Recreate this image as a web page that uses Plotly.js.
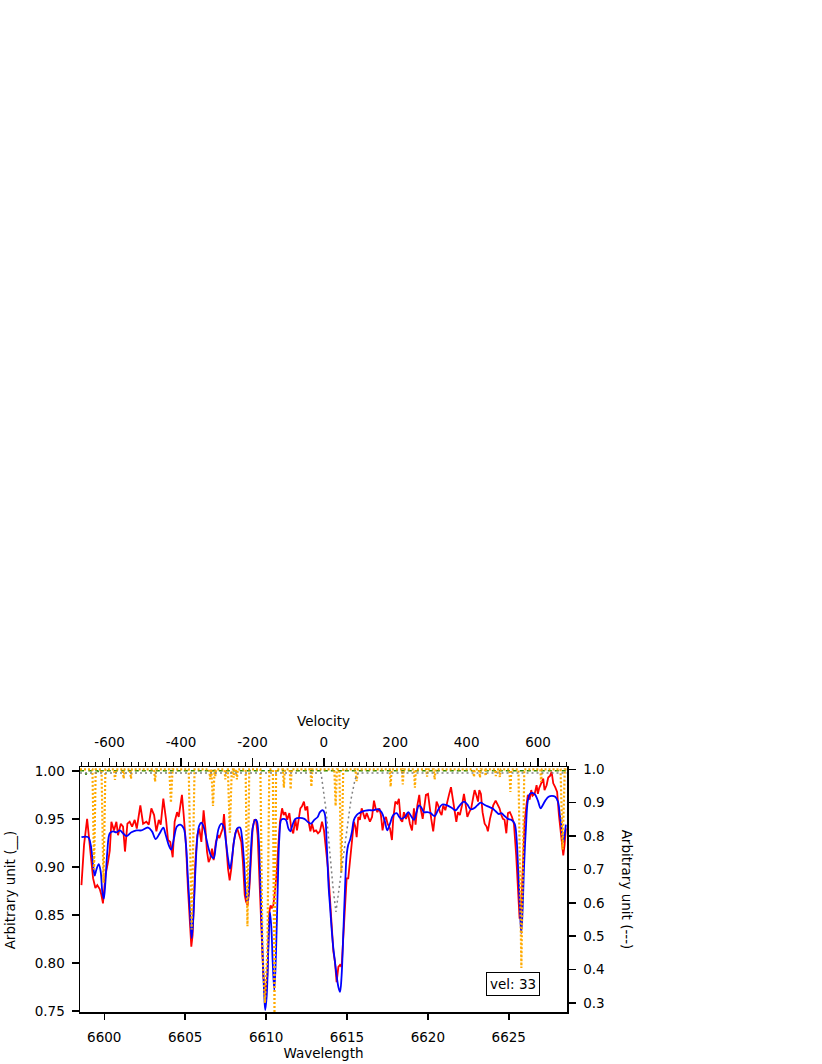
<!DOCTYPE html>
<html>
<head>
<meta charset="utf-8">
<script src="https://cdn.plot.ly/plotly-3.0.1.min.js"></script>
<style>
  body { margin: 0; background: white; }
  #spec { width: 822px; height: 1064px; }
</style>
</head>
<body>
<div id="spec"></div>
<script>
// observed spectrum (red), left axis
var wlObs = [6598.59, 6598.75, 6598.94, 6599.06, 6599.20, 6599.31, 6599.45, 6599.57, 6599.72, 6599.82,
  6599.92, 6600.07, 6600.23, 6600.34, 6600.44, 6600.60, 6600.75, 6600.85, 6601.02, 6601.16,
  6601.28, 6601.43, 6601.57, 6601.72, 6601.88, 6602.01, 6602.23, 6602.40, 6602.60, 6602.75,
  6602.91, 6603.08, 6603.22, 6603.37, 6603.49, 6603.65, 6603.82, 6603.94, 6604.08, 6604.23,
  6604.35, 6604.50, 6604.60, 6604.70, 6604.80, 6604.91, 6605.05, 6605.17, 6605.30, 6605.38,
  6605.46, 6605.55, 6605.63, 6605.75, 6605.87, 6606.00, 6606.14, 6606.25, 6606.35, 6606.45,
  6606.55, 6606.66, 6606.76, 6606.90, 6607.03, 6607.11, 6607.24, 6607.32, 6607.40, 6607.52,
  6607.65, 6607.75, 6607.85, 6607.98, 6608.10, 6608.22, 6608.35, 6608.47, 6608.57, 6608.68,
  6608.76, 6608.86, 6608.97, 6609.07, 6609.17, 6609.28, 6609.38, 6609.48, 6609.58, 6609.71,
  6609.83, 6609.95, 6610.08, 6610.20, 6610.28, 6610.37, 6610.45, 6610.57, 6610.66, 6610.76,
  6610.86, 6610.99, 6611.09, 6611.19, 6611.31, 6611.44, 6611.56, 6611.68, 6611.81, 6611.91,
  6612.01, 6612.12, 6612.22, 6612.34, 6612.43, 6612.55, 6612.63, 6612.74, 6612.84, 6612.96,
  6613.09, 6613.21, 6613.33, 6613.46, 6613.58, 6613.70, 6613.83, 6613.95, 6614.05, 6614.16,
  6614.26, 6614.36, 6614.47, 6614.57, 6614.67, 6614.77, 6614.88, 6614.98, 6615.08, 6615.19,
  6615.31, 6615.43, 6615.52, 6615.60, 6615.70, 6615.80, 6615.91, 6616.01, 6616.11, 6616.22,
  6616.32, 6616.42, 6616.55, 6616.67, 6616.77, 6616.88, 6617.00, 6617.10, 6617.20, 6617.31,
  6617.41, 6617.51, 6617.66, 6617.78, 6617.86, 6617.99, 6618.11, 6618.21, 6618.32, 6618.42,
  6618.52, 6618.65, 6618.77, 6618.89, 6619.02, 6619.14, 6619.24, 6619.35, 6619.47, 6619.55,
  6619.68, 6619.76, 6619.88, 6620.01, 6620.11, 6620.21, 6620.33, 6620.44, 6620.54, 6620.64,
  6620.75, 6620.85, 6620.95, 6621.08, 6621.20, 6621.32, 6621.43, 6621.53, 6621.63, 6621.76,
  6621.86, 6621.98, 6622.11, 6622.23, 6622.31, 6622.44, 6622.56, 6622.68, 6622.81, 6622.89,
  6622.99, 6623.10, 6623.18, 6623.28, 6623.38, 6623.51, 6623.63, 6623.71, 6623.84, 6623.92,
  6624.04, 6624.19, 6624.33, 6624.43, 6624.54, 6624.64, 6624.74, 6624.85, 6624.95, 6625.07,
  6625.20, 6625.32, 6625.46, 6625.57, 6625.67, 6625.77, 6625.88, 6625.98, 6626.10, 6626.18,
  6626.29, 6626.39, 6626.47, 6626.60, 6626.72, 6626.80, 6626.88, 6627.01, 6627.13, 6627.21,
  6627.34, 6627.44, 6627.56, 6627.65, 6627.75, 6627.87, 6627.99, 6628.10, 6628.20, 6628.29,
  6628.37, 6628.45, 6628.53];
var flObs = [0.881, 0.923, 0.950, 0.930, 0.905, 0.888, 0.878, 0.881, 0.877, 0.871,
  0.862, 0.891, 0.905, 0.917, 0.947, 0.938, 0.947, 0.933, 0.945, 0.942,
  0.916, 0.945, 0.947, 0.942, 0.949, 0.940, 0.964, 0.945, 0.947, 0.944,
  0.961, 0.954, 0.937, 0.949, 0.944, 0.971, 0.949, 0.928, 0.926, 0.910,
  0.947, 0.957, 0.952, 0.964, 0.975, 0.954, 0.923, 0.878, 0.836, 0.817,
  0.829, 0.871, 0.905, 0.933, 0.940, 0.926, 0.959, 0.940, 0.916, 0.905,
  0.909, 0.919, 0.907, 0.926, 0.933, 0.930, 0.935, 0.940, 0.955, 0.926,
  0.898, 0.886, 0.898, 0.923, 0.935, 0.940, 0.931, 0.926, 0.905, 0.871,
  0.864, 0.860, 0.878, 0.905, 0.940, 0.949, 0.949, 0.933, 0.888, 0.836,
  0.787, 0.766, 0.787, 0.853, 0.860, 0.857, 0.860, 0.878, 0.895, 0.923,
  0.947, 0.961, 0.954, 0.957, 0.949, 0.956, 0.940, 0.935, 0.950, 0.938,
  0.950, 0.961, 0.963, 0.968, 0.959, 0.963, 0.947, 0.937, 0.945, 0.937,
  0.938, 0.935, 0.937, 0.947, 0.938, 0.916, 0.898, 0.867, 0.843, 0.812,
  0.801, 0.780, 0.796, 0.798, 0.796, 0.829, 0.864, 0.888, 0.888, 0.905,
  0.930, 0.947, 0.942, 0.931, 0.952, 0.949, 0.961, 0.954, 0.950, 0.956,
  0.952, 0.947, 0.952, 0.969, 0.961, 0.957, 0.961, 0.954, 0.938, 0.949,
  0.952, 0.945, 0.940, 0.928, 0.950, 0.968, 0.966, 0.971, 0.949, 0.947,
  0.957, 0.950, 0.956, 0.945, 0.938, 0.961, 0.944, 0.964, 0.975, 0.961,
  0.950, 0.961, 0.975, 0.976, 0.959, 0.950, 0.937, 0.954, 0.968, 0.964,
  0.957, 0.954, 0.964, 0.959, 0.969, 0.976, 0.983, 0.973, 0.961, 0.947,
  0.957, 0.954, 0.964, 0.976, 0.968, 0.952, 0.957, 0.961, 0.973, 0.980,
  0.975, 0.968, 0.980, 0.976, 0.957, 0.945, 0.942, 0.937, 0.950, 0.957,
  0.964, 0.969, 0.965, 0.961, 0.954, 0.950, 0.949, 0.935, 0.956, 0.957,
  0.952, 0.945, 0.912, 0.878, 0.846, 0.857, 0.905, 0.947, 0.965, 0.975,
  0.970, 0.980, 0.974, 0.976, 0.985, 0.976, 0.982, 0.988, 0.992, 0.980,
  0.985, 0.993, 0.995, 0.999, 0.987, 0.983, 0.978, 0.954, 0.937, 0.928,
  0.912, 0.923, 0.940];

// model spectrum (blue), left axis
var wlMod = [6598.59, 6599.00, 6599.16, 6599.31, 6599.41, 6599.51, 6599.66, 6599.78, 6599.88, 6599.97,
  6600.07, 6600.19, 6600.34, 6600.54, 6600.75, 6600.96, 6601.16, 6601.37, 6601.68, 6601.99,
  6602.29, 6602.71, 6602.95, 6603.18, 6603.43, 6603.65, 6603.77, 6603.98, 6604.14, 6604.31,
  6604.49, 6604.70, 6604.91, 6605.05, 6605.17, 6605.30, 6605.40, 6605.50, 6605.63, 6605.75,
  6605.87, 6606.00, 6606.14, 6606.29, 6606.45, 6606.62, 6606.76, 6606.90, 6607.07, 6607.24,
  6607.38, 6607.52, 6607.65, 6607.77, 6607.89, 6608.06, 6608.22, 6608.39, 6608.51, 6608.64,
  6608.76, 6608.86, 6608.97, 6609.07, 6609.17, 6609.32, 6609.42, 6609.54, 6609.67, 6609.79,
  6609.89, 6609.95, 6610.04, 6610.14, 6610.24, 6610.33, 6610.41, 6610.51, 6610.61, 6610.72,
  6610.82, 6610.94, 6611.07, 6611.23, 6611.38, 6611.50, 6611.64, 6611.81, 6612.06, 6612.37,
  6612.57, 6612.78, 6612.98, 6613.19, 6613.33, 6613.50, 6613.62, 6613.75, 6613.87, 6613.95,
  6614.05, 6614.16, 6614.26, 6614.36, 6614.47, 6614.57, 6614.67, 6614.77, 6614.88, 6614.98,
  6615.08, 6615.19, 6615.31, 6615.43, 6615.60, 6615.76, 6616.01, 6616.32, 6616.63, 6616.94,
  6617.14, 6617.35, 6617.49, 6617.66, 6617.86, 6618.07, 6618.23, 6618.38, 6618.58, 6618.79,
  6618.96, 6619.14, 6619.30, 6619.45, 6619.59, 6619.76, 6619.96, 6620.17, 6620.42, 6620.62,
  6620.89, 6621.20, 6621.51, 6621.72, 6621.92, 6622.23, 6622.44, 6622.64, 6622.85, 6623.05,
  6623.26, 6623.47, 6623.71, 6623.98, 6624.19, 6624.39, 6624.54, 6624.74, 6624.95, 6625.15,
  6625.36, 6625.48, 6625.59, 6625.69, 6625.77, 6625.85, 6625.94, 6626.06, 6626.18, 6626.31,
  6626.47, 6626.64, 6626.80, 6626.97, 6627.09, 6627.26, 6627.46, 6627.67, 6627.87, 6628.04,
  6628.16, 6628.29, 6628.37, 6628.45, 6628.53];
var flMod = [0.931, 0.931, 0.923, 0.902, 0.891, 0.897, 0.903, 0.895, 0.874, 0.867,
  0.884, 0.916, 0.935, 0.937, 0.936, 0.938, 0.935, 0.932, 0.936, 0.938,
  0.938, 0.941, 0.937, 0.929, 0.935, 0.941, 0.935, 0.923, 0.918, 0.930,
  0.942, 0.944, 0.940, 0.923, 0.888, 0.853, 0.826, 0.846, 0.895, 0.930,
  0.943, 0.946, 0.942, 0.931, 0.919, 0.911, 0.909, 0.923, 0.940, 0.945,
  0.942, 0.926, 0.909, 0.898, 0.909, 0.931, 0.940, 0.941, 0.931, 0.905,
  0.871, 0.864, 0.884, 0.919, 0.940, 0.949, 0.948, 0.930, 0.871, 0.808,
  0.766, 0.751, 0.766, 0.815, 0.853, 0.836, 0.801, 0.772, 0.808, 0.878,
  0.930, 0.949, 0.950, 0.949, 0.940, 0.937, 0.944, 0.950, 0.951, 0.950,
  0.947, 0.945, 0.949, 0.952, 0.957, 0.959, 0.956, 0.923, 0.878, 0.860,
  0.836, 0.815, 0.801, 0.787, 0.775, 0.770, 0.787, 0.829, 0.878, 0.912,
  0.923, 0.928, 0.937, 0.949, 0.954, 0.956, 0.958, 0.959, 0.959, 0.960,
  0.957, 0.947, 0.938, 0.945, 0.954, 0.956, 0.952, 0.950, 0.952, 0.957,
  0.953, 0.949, 0.957, 0.964, 0.962, 0.957, 0.957, 0.956, 0.953, 0.959,
  0.965, 0.964, 0.961, 0.959, 0.963, 0.968, 0.965, 0.960, 0.961, 0.964,
  0.967, 0.965, 0.963, 0.961, 0.958, 0.955, 0.956, 0.953, 0.950, 0.949,
  0.945, 0.930, 0.895, 0.857, 0.831, 0.853, 0.898, 0.940, 0.969, 0.976,
  0.977, 0.975, 0.969, 0.961, 0.964, 0.969, 0.973, 0.974, 0.973, 0.968,
  0.954, 0.937, 0.926, 0.933, 0.944];

// telluric lines (orange dotted), right axis
var wlTel = [6598.50,
  6599.27, 6599.37, 6599.47, 6599.83, 6599.95, 6600.07, 6600.60, 6600.66, 6600.72,
  6601.14, 6601.20, 6601.26, 6601.59, 6601.65, 6601.71, 6603.08, 6603.14, 6603.20,
  6604.02, 6604.12, 6604.22, 6605.22, 6605.40, 6605.58, 6606.49, 6606.54, 6606.59,
  6606.62, 6606.72, 6606.82, 6606.86, 6606.91, 6607.43, 6607.48, 6607.53,
  6607.64, 6607.76, 6607.88, 6607.95, 6608.00, 6608.05, 6608.15, 6608.20, 6608.25,
  6608.74, 6608.85, 6608.96, 6609.65, 6609.78, 6609.93, 6610.08, 6610.20,
  6610.42, 6610.52, 6610.62, 6611.04, 6611.10, 6611.16, 6611.46, 6611.52, 6611.58,
  6612.74, 6612.80, 6612.86, 6614.22, 6614.30, 6614.38, 6614.53, 6614.65, 6614.77,
  6615.52, 6615.60, 6615.68, 6617.64, 6617.70, 6617.76, 6618.39, 6618.45, 6618.51,
  6619.14, 6619.20, 6619.26, 6619.90, 6619.95, 6620.00, 6620.36, 6620.42, 6620.48,
  6622.80, 6622.85, 6622.90, 6623.17, 6623.22, 6623.27, 6623.52, 6623.57, 6623.62,
  6624.15, 6624.20, 6624.25, 6624.40, 6624.45, 6624.50, 6625.04, 6625.10, 6625.16,
  6625.60, 6625.78, 6625.96, 6626.95, 6627.00, 6627.05, 6628.20, 6628.33, 6628.46,
  6628.60];
var flTel = [1.0,
  1.0, 0.70, 1.0, 1.0, 0.66, 1.0, 1.0, 0.968, 1.0,
  1.0, 0.972, 1.0, 1.0, 0.972, 1.0, 1.0, 0.963, 1.0,
  1.0, 0.90, 1.0, 1.0, 0.52, 1.0, 1.0, 0.97, 1.0,
  1.0, 0.89, 1.0, 0.98, 1.0, 1.0, 0.97, 1.0,
  1.0, 0.81, 1.0, 1.0, 0.975, 1.0, 1.0, 0.97, 1.0,
  1.0, 0.53, 1.0, 1.0, 0.45, 0.30, 0.45, 1.0,
  1.0, 0.27, 1.0, 1.0, 0.945, 1.0, 1.0, 0.94, 1.0,
  1.0, 0.948, 1.0, 1.0, 0.89, 1.0, 1.0, 0.69, 1.0,
  1.0, 0.965, 1.0, 1.0, 0.948, 1.0, 1.0, 0.955, 1.0,
  1.0, 0.945, 1.0, 1.0, 0.978, 1.0, 1.0, 0.97, 1.0,
  1.0, 0.977, 1.0, 1.0, 0.975, 1.0, 1.0, 0.98, 1.0,
  1.0, 0.98, 1.0, 1.0, 0.977, 1.0, 1.0, 0.932, 1.0,
  1.0, 0.405, 1.0, 1.0, 0.962, 1.0, 1.0, 0.76, 1.0,
  1.0];

// line profile (grey dotted), right axis
var wlProf = [6598.50, 6613.40, 6613.70, 6613.95, 6614.15, 6614.32, 6614.50, 6614.75, 6615.00, 6615.25, 6615.50, 6615.70, 6628.60];
var flProf = [0.989, 0.989, 0.88, 0.74, 0.64, 0.573, 0.64, 0.74, 0.83, 0.91, 0.97, 0.989, 0.989];

// continuum (green dashed), left axis
var wlCont = [6598.50, 6598.80, 6598.87, 6598.95, 6599.60, 6599.65, 6599.70, 6628.60];
var flCont = [1.0, 1.0, 0.996, 1.0, 1.0, 0.998, 1.0, 1.0];

// velocity tick labels
var velTicks = [-600, -400, -200, 0, 200, 400, 600];
var velLabels = ['-600', '-400', '-200', '0', '200', '400', '600'];

var traceTel = {
  x: wlTel, y: flTel, type: 'scatter', mode: 'lines', yaxis: 'y2',
  line: {color: '#FFAA00', width: 2.2, dash: '2px,2px'}
};
var traceProf = {
  x: wlProf, y: flProf, type: 'scatter', mode: 'lines', yaxis: 'y2',
  line: {color: '#808080', width: 1.5, dash: '2px,3px'}
};
var traceCont = {
  x: wlCont, y: flCont, type: 'scatter', mode: 'lines',
  line: {color: '#2E8B00', width: 1.5, dash: '4px,3px'}
};
var traceObs = {
  x: wlObs, y: flObs, type: 'scatter', mode: 'lines',
  line: {color: '#FF0000', width: 1.8}
};
var traceMod = {
  x: wlMod, y: flMod, type: 'scatter', mode: 'lines',
  line: {color: '#0000FF', width: 1.8, shape: 'spline'}
};
// empty trace so the velocity axis is drawn
var traceVel = {x: [], y: [], type: 'scatter', xaxis: 'x2', showlegend: false};

var data = [traceTel, traceProf, traceCont, traceObs, traceMod, traceVel];

var tickFont = {family: 'DejaVu Sans', size: 13.5, color: 'black'};
var titleFont = {family: 'DejaVu Sans', size: 13.5, color: 'black'};

var layout = {
  width: 822,
  height: 1064,
  margin: {l: 80, r: 255, t: 767, b: 52, pad: 0},
  paper_bgcolor: 'white',
  plot_bgcolor: 'white',
  showlegend: false,
  font: {family: 'DejaVu Sans', size: 13, color: 'black'},
  xaxis: {
    range: [6598.5, 6628.6], tick0: 6600, dtick: 5,
    ticks: 'outside', ticklen: 6, tickwidth: 1.5, tickcolor: 'black',
    ticklabelstandoff: 6, tickfont: tickFont,
    showline: true, linewidth: 1.5, linecolor: 'black',
    showgrid: false, zeroline: false, automargin: false,
    title: {text: 'Wavelength', standoff: 2, font: titleFont}
  },
  xaxis2: {
    overlaying: 'x', side: 'top', anchor: 'y',
    range: [-683, 681], tickmode: 'array', tickvals: velTicks, ticktext: velLabels,
    ticks: 'outside', ticklen: 8, tickwidth: 1.5, tickcolor: 'black',
    ticklabelstandoff: 5, tickfont: tickFont,
    minor: {tickmode: 'linear', tick0: 0, dtick: 20, ticks: 'outside', ticklen: 4, tickwidth: 1, tickcolor: 'black', showgrid: false},
    showline: true, linewidth: 1.5, linecolor: 'black',
    showgrid: false, zeroline: false, automargin: false,
    title: {text: 'Velocity', standoff: 4, font: titleFont}
  },
  yaxis: {
    range: [0.749, 1.004], dtick: 0.05, tickformat: '.2f',
    ticks: 'outside', ticklen: 7, tickwidth: 1.5, tickcolor: 'black',
    ticklabelstandoff: 4, tickfont: tickFont,
    showline: true, linewidth: 1.5, linecolor: 'black',
    showgrid: false, zeroline: false, automargin: false
  },
  yaxis2: {
    overlaying: 'y', side: 'right', anchor: 'x',
    range: [0.273, 1.007], dtick: 0.1, tickformat: '.1f',
    ticks: 'outside', ticklen: 7, tickwidth: 1.5, tickcolor: 'black',
    ticklabelstandoff: 5, tickfont: tickFont,
    showline: true, linewidth: 1.5, linecolor: 'black',
    showgrid: false, zeroline: false, automargin: false
  },
  annotations: [
    {text: 'Arbitrary unit (__)', xref: 'paper', yref: 'paper', x: -0.144, y: 0.5,
     textangle: -90, showarrow: false, xanchor: 'center', yanchor: 'middle', font: titleFont},
    {text: 'Arbitrary unit (---)', xref: 'paper', yref: 'paper', x: 1.125, y: 0.5,
     textangle: 90, showarrow: false, xanchor: 'center', yanchor: 'middle', font: titleFont},
    {text: 'vel: 33', xref: 'paper', yref: 'paper', x: 0.889, y: 0.115,
     showarrow: false, xanchor: 'center', yanchor: 'middle', font: titleFont,
     bordercolor: 'black', borderwidth: 1, borderpad: 3, bgcolor: 'white'}
  ]
};

var config = {staticPlot: true, displayModeBar: false};

Plotly.newPlot('spec', data, layout, config);
</script>
</body>
</html>
